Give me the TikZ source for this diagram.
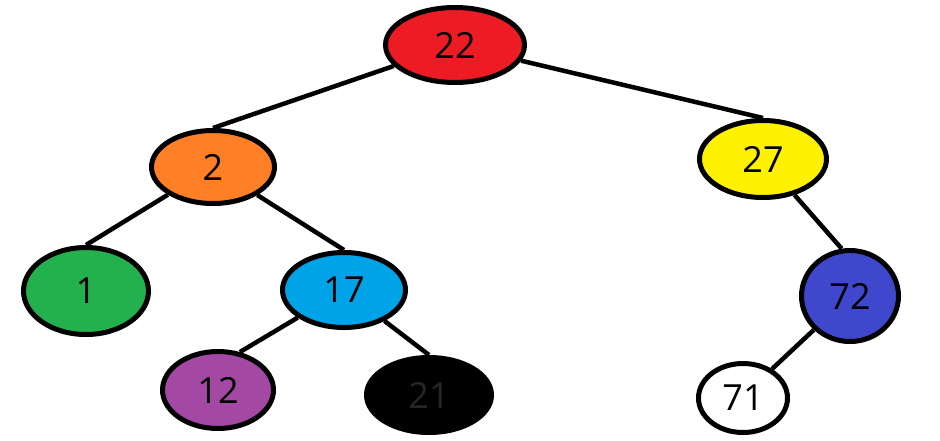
\documentclass[tikz,border=0pt]{standalone}
\usepackage{fontspec}
\setmainfont{Open Sans}
\usetikzlibrary{shapes.geometric}
\definecolor{cred}{HTML}{ED1C24}
\definecolor{corange}{HTML}{FF7F27}
\definecolor{cyellow}{HTML}{FFF200}
\definecolor{cgreen}{HTML}{22B14C}
\definecolor{clblue}{HTML}{00A2E8}
\definecolor{cblue}{HTML}{3F48CC}
\definecolor{cpurple}{HTML}{A349A4}
\tikzset{
  tnode/.style={ellipse, draw=black, line width=5pt, inner sep=0pt,
    font=\fontsize{36}{36}\selectfont},
  edge/.style={line width=4.5pt, black}
}
\begin{document}
\begin{tikzpicture}[x=1pt,y=-1pt]
\useasboundingbox (0,0) rectangle (940,440);
\node[tnode, fill=cred, minimum width=139pt, minimum height=75pt] (n22) at (455,45) {22};
\node[tnode, fill=corange, minimum width=123pt, minimum height=73pt] (n2) at (213,167) {2};
\node[tnode, fill=cyellow, minimum width=127pt, minimum height=77pt] (n27) at (763,159) {27};
\node[tnode, fill=cgreen, minimum width=125pt, minimum height=87pt] (n1) at (86,291) {1};
\node[tnode, fill=clblue, minimum width=123pt, minimum height=75pt] (n17) at (344,290) {17};
\node[tnode, fill=cblue, minimum width=97pt, minimum height=91pt] (n72) at (850,296) {72};
\node[tnode, fill=cpurple, minimum width=111pt, minimum height=77pt] (n12) at (218,390) {12};
\node[tnode, fill=black, text=black!85!white, minimum width=125pt, minimum height=75pt] (n21) at (429,395) {21};
\node[tnode, fill=white, minimum width=89pt, minimum height=69pt] (n71) at (743,398) {71};
\draw[edge] (n22) -- (n2.north);
\draw[edge] (n22) -- (n27.north);
\draw[edge] (n2) -- (n1.north);
\draw[edge] (n2) -- (n17.north);
\draw[edge] (n17) -- (n12.60);
\draw[edge] (n17) -- (n21.north);
\draw[edge] (n27) -- (n72.100);
\draw[edge] (n72) -- (n71.45);
\end{tikzpicture}
\end{document}
